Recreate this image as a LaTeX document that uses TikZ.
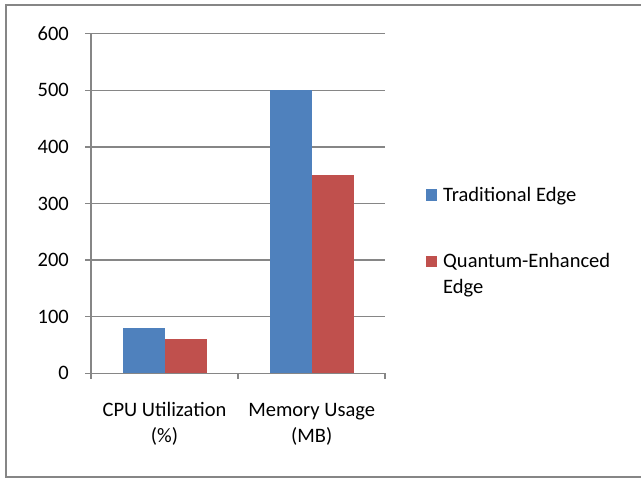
\documentclass[tikz,border=0pt]{standalone}
\usepackage{fontspec}
\setmainfont{Carlito}
\definecolor{tradblue}{HTML}{4F81BD}
\definecolor{quantred}{HTML}{C0504D}
\definecolor{gridgray}{HTML}{868686}
\begin{document}
\begin{tikzpicture}[x=1pt,y=-1pt,
  gridline/.style={draw=gridgray,line width=1.3pt},
  frameline/.style={draw=gridgray,line width=1.6pt},
  lbl/.style={font=\fontsize{20.5}{26}\selectfont,inner sep=0pt,text=black},
  bartrad/.style={fill=tradblue},
  barquant/.style={fill=quantred}]
\useasboundingbox (0,0) rectangle (641,479);
\draw[frameline] (6,5) rectangle (660,477);
% gridlines and y labels
\foreach \v [count=\i from 0] in {0,100,200,300,400,500,600} {
  \coordinate (g\i) at (85,373.3-\i*56.6);
  \draw[gridline] (g\i) -- ++(300,0);
  \node[lbl,anchor=east] (y\i) at (69,373.3-\i*56.6) {\v};
}
% axes
\draw[gridline] (91,33.7) -- (91,379);
\draw[gridline] (238,373.3) -- (238,379);
\draw[gridline] (385,373.3) -- (385,379);
% bars
\fill[bartrad] (122.7,373.3) rectangle (164.7,373.3-80*0.566);
\fill[barquant] (164.7,373.3) rectangle (206.7,373.3-60*0.566);
\fill[bartrad] (269.5,373.3) rectangle (311.7,373.3-500*0.566);
\fill[barquant] (311.7,373.3) rectangle (353.7,373.3-350*0.566);
% category labels
\node[lbl,align=center] (c1) at (164.5,424) {CPU Utilization\\(\%)};
\node[lbl,align=center] (c2) at (311.7,424) {Memory Usage\\(MB)};
% legend
\fill[bartrad] (426,189.3) rectangle (437.3,200.7);
\node[lbl,anchor=west] (l1) at (443,196) {Traditional Edge};
\fill[barquant] (426,256) rectangle (437.3,267.3);
\node[lbl,anchor=north west,align=left] (l2) at (443,253) {Quantum-Enhanced\\Edge};
\end{tikzpicture}
\end{document}
